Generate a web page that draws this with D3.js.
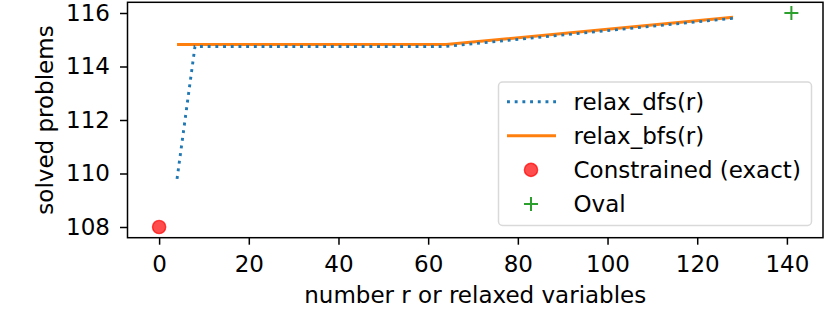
<!DOCTYPE html>
<html>
<head>
<meta charset="utf-8">
<script src="https://cdn.jsdelivr.net/npm/d3@7"></script>
<style>
  body { margin: 0; background: #fff; }
  text { font-family: "DejaVu Sans", sans-serif; }
</style>
</head>
<body>
<div id="chart"></div>
<script>
// data
const rValues = [4, 8, 16, 32, 64, 128];
const dfsSolved = [109.8, 114.75, 114.75, 114.75, 114.75, 115.8];
const bfsSolved = [114.82, 114.82, 114.82, 114.82, 114.82, 115.84];
const constrained = [{ r: 0, solved: 108 }];
const oval = [{ r: 141, solved: 116 }];
const xTicks = [0, 20, 40, 60, 80, 100, 120, 140];
const yTicks = [108, 110, 112, 114, 116];

function makeChart() {
    const width = 830,
        height = 314,
        margin = { top: 2.3, right: 7, bottom: 76.3, left: 127.5 };
    const fontSize = 23;

    const x = d3.scaleLinear().domain([-7.05, 148.05]).range([margin.left, width - margin.right]);
    const y = d3.scaleLinear().domain([107.6, 116.4]).range([height - margin.bottom, margin.top]);

    let svg = d3.select('#chart').append('svg')
        .attr('width', width)
        .attr('height', height);

    // axes
    let xAxis = svg.append('g')
        .attr('transform', 'translate(0,' + (height - margin.bottom) + ')')
        .call(d3.axisBottom(x).tickValues(xTicks).tickSize(7).tickPadding(10.5).tickFormat(d3.format('d')));
    let yAxis = svg.append('g')
        .attr('transform', 'translate(' + margin.left + ',0)')
        .call(d3.axisLeft(y).tickValues(yTicks).tickSize(7.5).tickPadding(10).tickFormat(d3.format('d')));

    [xAxis, yAxis].forEach(a => {
        a.select('.domain').remove();
        a.selectAll('.tick line').attr('stroke', '#000').attr('stroke-width', 1.5);
        a.selectAll('.tick text').attr('fill', '#000').style('font-size', fontSize + 'px');
    });

    const line = d3.line()
        .x((d, i) => x(rValues[i]))
        .y(d => y(d));

    svg.append('path')
        .datum(bfsSolved)
        .attr('d', line)
        .attr('fill', 'none')
        .attr('stroke', '#ff7f0e')
        .attr('stroke-width', 2.9);

    svg.append('path')
        .datum(dfsSolved)
        .attr('d', line)
        .attr('fill', 'none')
        .attr('stroke', '#1f77b4')
        .attr('stroke-width', 2.9)
        .attr('stroke-dasharray', '2.9,4.8');

    svg.selectAll('.constrained')
        .data(constrained)
        .enter().append('circle')
        .attr('cx', d => x(d.r))
        .attr('cy', d => y(d.solved))
        .attr('r', 6.6)
        .attr('fill', 'red')
        .attr('fill-opacity', 0.7)
        .attr('stroke', 'red')
        .attr('stroke-opacity', 0.7)
        .attr('stroke-width', 1.4);

    svg.selectAll('.oval')
        .data(oval)
        .enter().append('path')
        .attr('d', d => {
            const cx = x(d.r), cy = y(d.solved), s = 7;
            return 'M' + (cx - s) + ',' + cy + 'H' + (cx + s) + 'M' + cx + ',' + (cy - s) + 'V' + (cy + s);
        })
        .attr('stroke', '#2ca02c')
        .attr('stroke-width', 2);

    // frame
    svg.append('rect')
        .attr('x', margin.left)
        .attr('y', margin.top)
        .attr('width', width - margin.left - margin.right)
        .attr('height', height - margin.top - margin.bottom)
        .attr('fill', 'none')
        .attr('stroke', '#000')
        .attr('stroke-width', 1.5);

    // legend
    let legend = svg.append('g');
    legend.append('rect')
        .attr('x', 498.5)
        .attr('y', 82)
        .attr('width', 313)
        .attr('height', 143.5)
        .attr('rx', 4)
        .attr('fill', '#fff')
        .attr('fill-opacity', 0.8)
        .attr('stroke', '#d9d9d9')
        .attr('stroke-width', 1.5);

    const items = [
        { label: 'relax_dfs(r)', type: 'dfs' },
        { label: 'relax_bfs(r)', type: 'bfs' },
        { label: 'Constrained (exact)', type: 'constrained' },
        { label: 'Oval', type: 'oval' }
    ];
    const rowY = i => 101.7 + i * 34.1;
    items.forEach((it, i) => {
        const yy = rowY(i);
        if (it.type === 'dfs' || it.type === 'bfs') {
            legend.append('line')
                .attr('x1', 507).attr('x2', 556)
                .attr('y1', yy).attr('y2', yy)
                .attr('stroke', it.type === 'dfs' ? '#1f77b4' : '#ff7f0e')
                .attr('stroke-width', 2.9)
                .attr('stroke-dasharray', it.type === 'dfs' ? '2.9,4.8' : null);
        } else if (it.type === 'constrained') {
            legend.append('circle')
                .attr('cx', 531).attr('cy', yy).attr('r', 6.6)
                .attr('fill', 'red').attr('fill-opacity', 0.7)
                .attr('stroke', 'red').attr('stroke-opacity', 0.7).attr('stroke-width', 1.4);
        } else {
            legend.append('path')
                .attr('d', 'M524,' + yy + 'H538M531,' + (yy - 7) + 'V' + (yy + 7))
                .attr('stroke', '#2ca02c').attr('stroke-width', 2);
        }
        legend.append('text')
            .attr('x', 573.5)
            .attr('y', yy)
            .attr('dy', '0.36em')
            .style('font-size', fontSize + 'px')
            .text(it.label);
    });

    // axis labels
    svg.append('text')
        .attr('x', (margin.left + width - margin.right) / 2)
        .attr('y', 303.3)
        .attr('text-anchor', 'middle')
        .style('font-size', fontSize + 'px')
        .text('number r or relaxed variables');

    svg.append('text')
        .attr('transform', 'translate(53,' + ((margin.top + height - margin.bottom) / 2) + ') rotate(-90)')
        .attr('text-anchor', 'middle')
        .style('font-size', fontSize + 'px')
        .text('solved problems');
}

makeChart();
</script>
</body>
</html>
